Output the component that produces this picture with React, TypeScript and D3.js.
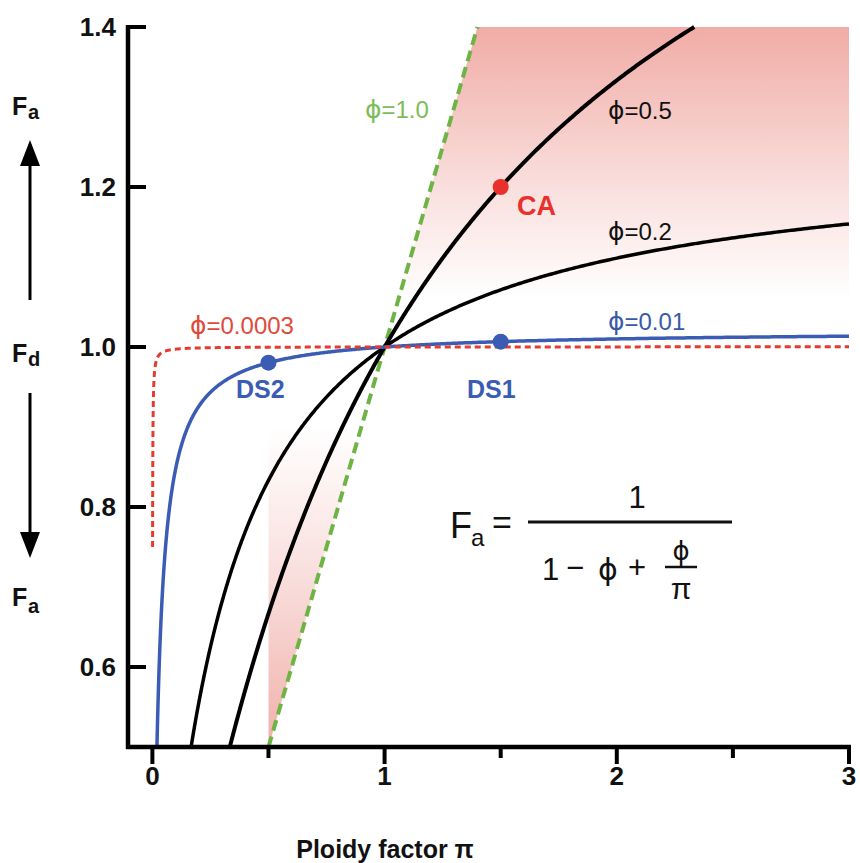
import React from "react";
import * as d3 from "d3";

// ---- data ----
const curvePhis = [1.0, 0.5, 0.2, 0.02, 0.0003];
const curveLabels = ["=1.0", "=0.5", "=0.2", "=0.01", "=0.0003"];
const curveStartF = [0.5, 0.5, 0.5, 0.5, 0.75];
const pointNames = ["CA", "DS1", "DS2"];
const pointPi = [1.5, 1.5, 0.5];
const pointPhi = [0.5, 0.02, 0.02];
const xTicks = [0, 1, 2, 3];
const xMinorTicks = [0.5, 1.5, 2.5];
const yTicks = [0.6, 0.8, 1.0, 1.2, 1.4];
const yTickLabels = ["0.6", "0.8", "1.0", "1.2", "1.4"];

// ---- styles ----
const curveColors = ["#6db444", "#000000", "#000000", "#3a5cb4", "#e63a2e"];
const labelColors = ["#7cbd57", "#111111", "#111111", "#3a5aa8", "#e04a3a"];
const curveDash = ["11,6", null, null, null, "6,4"];
const curveWidth = [4, 4, 3.5, 3.5, 3];
const labelPos = [
  [365, 118],
  [608, 119],
  [608, 240],
  [608, 330],
  [190, 334],
];
const pointColors = ["#e8302c", "#3a5cb4", "#3a5cb4"];
const pointLabelPos = [
  [517, 215],
  [467, 398],
  [236, 398],
];

const FONT = "'Liberation Sans', Arial, Helvetica, sans-serif";
const PHI_FONT = "'DejaVu Sans', sans-serif";
const PHI = "\u03D5";

const X0 = 128, X1 = 849, Y0 = 747, Y1 = 27;
const x = d3.scaleLinear().domain([-0.105, 3]).range([X0, X1]);
const y = d3.scaleLinear().domain([0.5, 1.4]).range([Y0, Y1]);

const Fa = (pi: number, phi: number) => 1 / (1 - phi + phi / pi);
const piForF = (F: number, phi: number) => phi / (1 / F - 1 + phi);

function curvePoints(phi: number, startF: number): [number, number][] {
  const p0 = piForF(startF, phi);
  let p1 = 3;
  const f3 = Fa(3, phi);
  if (f3 > 1.4) p1 = piForF(1.4, phi);
  const pts: [number, number][] = [];
  const n = 600;
  for (let i = 0; i <= n; i++) {
    const t = i / n;
    const pi = p0 + (p1 - p0) * t * t * t;
    pts.push([pi, Fa(pi, phi)]);
  }
  return pts;
}

export default function App() {
  const line = d3
    .line<[number, number]>()
    .x((d) => x(d[0]))
    .y((d) => y(d[1]));

  const topPoly: [number, number][] = [
    [1, 1],
    [1.4, 1.4],
    [3, 1.4],
    [3, 1],
  ];
  const botPoly: [number, number][] = [
    [0.5, 0.5],
    [0.5, 1.0],
    [1, 1],
  ];

  return (
    <svg width={860} height={863} style={{ position: "absolute", left: 0, top: 0 }}>
      <defs>
        <linearGradient id="gTop" x1="0" y1={y(1.4)} x2="0" y2={y(1.0)} gradientUnits="userSpaceOnUse">
          <stop offset="0" stopColor="#f1aca6" />
          <stop offset="0.5" stopColor="#f9dfdd" />
          <stop offset="0.85" stopColor="#ffffff" />
        </linearGradient>
        <linearGradient id="gBot" x1="0" y1={y(0.5)} x2="0" y2={y(1.0)} gradientUnits="userSpaceOnUse">
          <stop offset="0" stopColor="#f1b0aa" />
          <stop offset="0.4" stopColor="#f8dcda" />
          <stop offset="0.8" stopColor="#ffffff" />
        </linearGradient>
        <clipPath id="plotClip">
          <rect x={X0} y={Y1 - 2} width={X1 - X0 + 2} height={Y0 - Y1 + 2} />
        </clipPath>
      </defs>
      <rect x={0} y={0} width={860} height={863} fill="#ffffff" />

      <path d={line(topPoly)! + "Z"} fill="url(#gTop)" />
      <path d={line(botPoly)! + "Z"} fill="url(#gBot)" />

      <g clipPath="url(#plotClip)">
        {curvePhis.map((phi, i) => {
          const pts: [number, number][] =
            phi === 1
              ? [
                  [0.5, 0.5],
                  [1.4, 1.4],
                ]
              : curvePoints(phi, curveStartF[i]);
          return (
            <path
              key={i}
              d={line(pts)!}
              fill="none"
              stroke={curveColors[i]}
              strokeWidth={curveWidth[i]}
              strokeDasharray={curveDash[i] ?? undefined}
            />
          );
        })}
      </g>

      {curveLabels.map((lab, i) => (
        <text
          key={lab}
          x={labelPos[i][0]}
          y={labelPos[i][1]}
          fill={labelColors[i]}
          fontFamily={FONT}
          fontSize={24}
        >
          <tspan fontFamily={PHI_FONT} fontSize={25}>{PHI}</tspan>
          {lab}
        </text>
      ))}

      {pointNames.map((nm, i) => (
        <g key={nm}>
          <circle cx={x(pointPi[i])} cy={y(Fa(pointPi[i], pointPhi[i]))} r={8} fill={pointColors[i]} />
          <text
            x={pointLabelPos[i][0]}
            y={pointLabelPos[i][1]}
            fill={pointColors[i]}
            fontFamily={FONT}
            fontWeight="bold"
            fontSize={nm === "CA" ? 27 : 25}
          >
            {nm}
          </text>
        </g>
      ))}

      {/* formula */}
      <g fontFamily={FONT} fill="#111">
        <text x={450} y={538} fontSize={36}>F</text>
        <text x={471} y={546} fontSize={24}>a</text>
        <text x={492} y={534} fontSize={34}>=</text>
        <line x1={528} x2={732} y1={522} y2={522} stroke="#111" strokeWidth={3} />
        <text x={637} y={508} fontSize={31} textAnchor="middle">1</text>
        <text x={542} y={580} fontSize={31}>1</text>
        <text x={566} y={578} fontSize={31}>−</text>
        <text x={598} y={580} fontSize={30} fontFamily={PHI_FONT}>{PHI}</text>
        <text x={628} y={578} fontSize={31}>+</text>
        <text x={681} y={560} fontSize={26} textAnchor="middle" fontFamily={PHI_FONT}>{PHI}</text>
        <line x1={665} x2={697} y1={567} y2={567} stroke="#111" strokeWidth={2.5} />
        <text x={681} y={599} fontSize={30} textAnchor="middle">π</text>
      </g>

      {/* axes */}
      <line x1={X0} x2={X0} y1={Y1 - 2} y2={Y0 + 2} stroke="#000" strokeWidth={4.5} />
      <line x1={X0 - 2} x2={X1 + 2} y1={Y0} y2={Y0} stroke="#000" strokeWidth={4.5} />
      {yTicks.map((t, i) => (
        <g key={t}>
          <line x1={X0} x2={X0 + 18} y1={y(t)} y2={y(t)} stroke="#000" strokeWidth={4} />
          <text
            x={116}
            y={y(t) + 9}
            textAnchor="end"
            fontFamily={FONT}
            fontWeight="bold"
            fontSize={26}
            fill="#111"
          >
            {yTickLabels[i]}
          </text>
        </g>
      ))}
      {xTicks.map((t) => (
        <g key={t}>
          <line x1={x(t)} x2={x(t)} y1={Y0} y2={Y0 + 17} stroke="#000" strokeWidth={4} />
          <text
            x={x(t)}
            y={785}
            textAnchor="middle"
            fontFamily={FONT}
            fontWeight="bold"
            fontSize={26}
            fill="#111"
          >
            {t}
          </text>
        </g>
      ))}
      {xMinorTicks.map((t) => (
        <line key={t} x1={x(t)} x2={x(t)} y1={Y0} y2={Y0 + 11} stroke="#000" strokeWidth={4} />
      ))}
      <text
        x={385}
        y={858}
        textAnchor="middle"
        fontFamily={FONT}
        fontWeight="bold"
        fontSize={25}
        fill="#111"
      >
        Ploidy factor π
      </text>

      {/* left side annotations */}
      <g fontFamily={FONT} fontWeight="bold" fill="#111">
        <text x={12} y={115} fontSize={25}>F</text>
        <text x={28} y={119} fontSize={20}>a</text>
        <text x={12} y={362} fontSize={25}>F</text>
        <text x={28} y={366} fontSize={20}>d</text>
        <text x={12} y={606} fontSize={25}>F</text>
        <text x={28} y={613} fontSize={20}>a</text>
      </g>
      <line x1={30} x2={30} y1={300} y2={160} stroke="#000" strokeWidth={3} />
      <path d="M30,140 L20,166 L40,166 Z" fill="#000" />
      <line x1={30} x2={30} y1={393} y2={535} stroke="#000" strokeWidth={3} />
      <path d="M30,558 L20,532 L40,532 Z" fill="#000" />
    </svg>
  );
}
